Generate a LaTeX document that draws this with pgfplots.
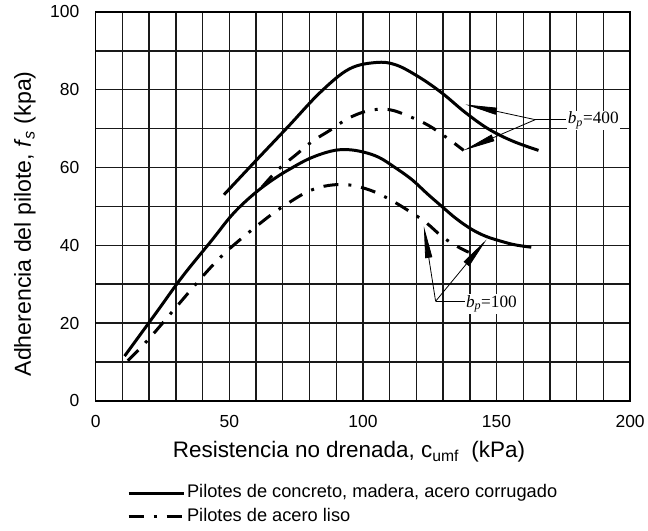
\documentclass[border=0pt]{standalone}
\usepackage{fontspec}
\setmainfont{Liberation Sans}
\newfontfamily\serifb{Liberation Serif}
\usepackage{pgfplots}
\pgfplotsset{compat=1.18}
\usetikzlibrary{arrows.meta}
\begin{document}
\begin{tikzpicture}
\begin{axis}[
  at={(0,0)}, anchor=south west,
  scale only axis, width=536pt, height=390pt,
  xmin=0, xmax=200, ymin=0, ymax=100,
  xtick={0,50,...,200}, ytick={0,20,...,100},
  minor xtick={10,20,...,190}, minor ytick={10,30,...,90},
  grid=both,
  major grid style={black!90, line width=1.4pt},
  minor grid style={black!90, line width=1.4pt},
  axis line style={black, line width=1.4pt},
  tick style={draw=none},
  /pgf/number format/assume math mode=true,
  ticklabel style={font=\fontsize{17.5}{20}\selectfont},
  xticklabel style={yshift=-11pt},
  yticklabel style={xshift=-13pt},
  xlabel={Resistencia no drenada, c\textsubscript{umf}\ \ (kPa)},
  xlabel style={font=\fontsize{22.5}{26}\selectfont, at={(axis description cs:0.4739,-0.1308)}, anchor=center},
  ylabel={Adherencia del pilote, \textit{f}\textsubscript{\textit{s}} (kpa)},
  ylabel style={font=\fontsize{23.2}{26}\selectfont, at={(axis description cs:-0.1325,0.455)}, anchor=center},
  legend style={draw=none, fill=none, at={(axis description cs:0.053,-0.268)}, anchor=west,
    font=\fontsize{18.3}{21}\selectfont,
    nodes={text height=13pt, text depth=4pt, inner ysep=3.2pt}},
  legend cell align=left,
  legend image code/.code={\draw[#1] (0pt,0pt) -- (55pt,0pt);},
  every axis plot/.append style={line width=3pt, black},
]
% bp=400 solid
\addplot[smooth, tension=0.6] coordinates {
(48,53) (60,61.8) (72,70.5) (84,79.3) (94.8,85.3) (104.9,87) (112.3,86.4) (120.9,83.3) (129.5,79.2) (138.4,74.1) (147,69.9) (156,66.8) (165.7,64.4)};
\addlegendentry{Pilotes de concreto, madera, acero corrugado}
% bp=100 dash-dot
\addplot[smooth, tension=0.6, dash pattern=on 15pt off 10pt on 3pt off 10pt] coordinates {
(12,10.3) (20,16) (30,24) (40,32) (47.4,37.4) (55,42) (65,47.5) (72.4,51) (80,54) (87.3,55.4) (95,55.5) (103,54.1) (110,51.8) (116.8,49) (123.5,45.9) (129.5,42.3) (135,39.8) (139.6,38.2)};
\addlegendentry{Pilotes de acero liso}
% bp=400 dash-dot
\addplot[smooth, tension=0.6, dash pattern=on 15pt off 10pt on 3pt off 10pt, forget plot] coordinates {
(62.3,55) (68.3,59.5) (75,63.3) (81,66.7) (88,69.7) (94.4,72.6) (102,74.6) (109.7,74.9) (117.5,73.1) (124.6,70.8) (131.3,67.7) (137.7,64.4)};
% bp=100 solid
\addplot[smooth, tension=0.6, forget plot] coordinates {
(10.8,11.5) (22.8,22.8) (32.5,32) (43.7,41.5) (50,47) (55,50.6) (61,54.2) (67,57.2) (72.4,59.5) (80,62.3) (88,64.2) (94,64.6) (100,64.0) (106,62.6) (112,60.0) (118.3,56.9) (124,53.3) (129.5,50) (135,46.8) (140.7,44.1) (146,42.3) (151.9,41) (157,40.1) (163,39.5)};
% annotations
\draw[line width=0.8pt] (axis cs:164.5,72.3) -- (axis cs:176,72.3);
\draw[line width=0.8pt, -{Triangle[length=32pt,width=7pt]}] (axis cs:164.5,72.3) -- (axis cs:138.3,76.2);
\draw[line width=0.8pt, -{Triangle[length=32pt,width=7pt]}] (axis cs:164.5,72.3) -- (axis cs:137.7,64.4);
\node[fill=white, inner sep=1pt, font=\serifb\fontsize{17.3}{20}\selectfont] at (axis cs:186.2,72.1) {\textit{b}\textsubscript{\textit{p}}=400};
\draw[line width=0.8pt] (axis cs:127.2,25.6) -- (axis cs:139,25.6);
\draw[line width=0.8pt, -{Triangle[length=32pt,width=7pt]}] (axis cs:127.2,25.6) -- (axis cs:122.8,44.9);
\draw[line width=0.8pt, -{Triangle[length=32pt,width=7pt]}] (axis cs:127.2,25.6) -- (axis cs:146.3,41.5);
\node[fill=white, inner sep=1pt, font=\serifb\fontsize{17.3}{20}\selectfont] at (axis cs:148.1,24.9) {\textit{b}\textsubscript{\textit{p}}=100};
\end{axis}
\path (-96pt,-122pt) rectangle (552pt,402pt);
\end{tikzpicture}
\end{document}
